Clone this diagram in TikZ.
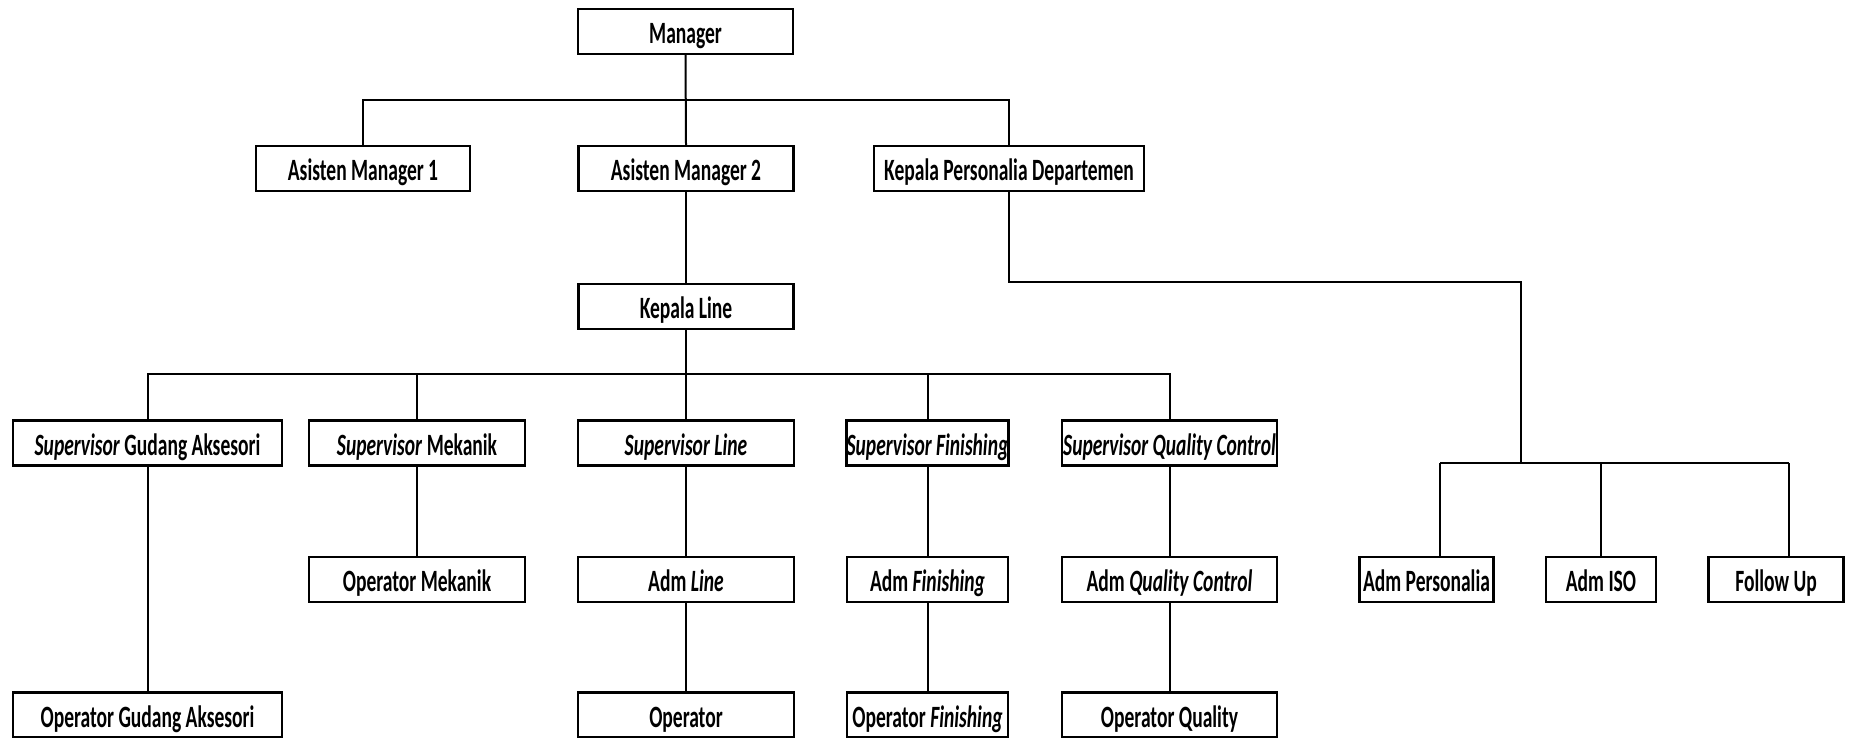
\documentclass[tikz,border=0pt]{standalone}
\usepackage{fontspec}
\setmainfont{Carlito}[FakeStretch=0.63]
\tikzset{
  box/.style={draw, line width=2.4pt, inner sep=0pt, minimum height=45pt,
    text height=26pt, text depth=2pt,
    font=\fontsize{31}{34}\selectfont\bfseries},
  conn/.style={line width=2pt},
}
\begin{document}
\begin{tikzpicture}[x=1pt,y=-1pt]
\useasboundingbox (0,0) rectangle (1849,738);
% row 1
\node[box, minimum width=215pt] (mgr) at (685.5,31.5) {Manager};
% row 2
\node[box, minimum width=214pt] (am1) at (363,168.5) {Asisten Manager 1};
\node[box, minimum width=215pt] (am2) at (686,168.5) {Asisten Manager 2};
\node[box, minimum width=270pt] (kpd) at (1009,168.5) {Kepala Personalia Departemen};
% row 3
\node[box, minimum width=215pt] (kl) at (686,306.5) {Kepala Line};
% row 4
\node[box, minimum width=269pt] (sga) at (147.5,443) {\textit{Supervisor} Gudang Aksesori};
\node[box, minimum width=216pt] (sm) at (417,443) {\textit{Supervisor} Mekanik};
\node[box, minimum width=216pt] (sl) at (686,443) {\textit{Supervisor Line}};
\node[box, minimum width=161pt] (sf) at (927.5,443) {\textit{Supervisor Finishing}};
\node[box, minimum width=215pt] (sqc) at (1169.5,443) {\textit{Supervisor Quality Control}};
% row 5
\node[box, minimum width=216pt] (om) at (417,579.5) {Operator Mekanik};
\node[box, minimum width=216pt] (al) at (686,579.5) {Adm \textit{Line}};
\node[box, minimum width=161pt] (af) at (927.5,579.5) {Adm \textit{Finishing}};
\node[box, minimum width=215pt] (aqc) at (1169.5,579.5) {Adm \textit{Quality Control}};
\node[box, minimum width=134pt] (ap) at (1426.5,579.5) {Adm Personalia};
\node[box, minimum width=110pt] (ai) at (1601,579.5) {Adm ISO};
\node[box, minimum width=135pt] (fu) at (1776,579.5) {Follow Up};
% row 6
\node[box, minimum width=269pt] (oga) at (147.5,715) {Operator Gudang Aksesori};
\node[box, minimum width=216pt] (op) at (686,715) {Operator};
\node[box, minimum width=161pt] (of) at (927.5,715) {Operator \textit{Finishing}};
\node[box, minimum width=215pt] (oq) at (1169.5,715) {Operator Quality};

% helper coordinates
\coordinate (b1) at (0,100);
\coordinate (b2) at (0,374);
\coordinate (b3) at (0,463);
\coordinate (k1) at (1521,282);
\coordinate (xp) at (1440,0);
\coordinate (xf) at (1789,0);

% connectors
\draw[conn] (mgr.south) -- (am2.north);
\draw[conn] (am1.north) -- (am1.north |- b1) -- (kpd.north |- b1) -- (kpd.north);
\draw[conn] (am2.south) -- (kl.north);
\draw[conn] (kl.south) -- (sl.north);
\draw[conn] (sga.north) -- (sga.north |- b2) -- (sqc.north |- b2) -- (sqc.north);
\draw[conn] (sm.north |- b2) -- (sm.north);
\draw[conn] (sf.north |- b2) -- (sf.north);
\draw[conn] (sga.south) -- (oga.north);
\draw[conn] (sm.south) -- (om.north);
\draw[conn] (sl.south) -- (al.north);
\draw[conn] (al.south) -- (op.north);
\draw[conn] (sf.south) -- (af.north);
\draw[conn] (af.south) -- (of.north);
\draw[conn] (sqc.south) -- (aqc.north);
\draw[conn] (aqc.south) -- (oq.north);
\draw[conn] (kpd.south) |- (k1) -- (k1 |- b3);
\draw[conn] (xp |- b3) -- (xf |- b3);
\draw[conn] (xp |- b3) -- (xp |- ap.north);
\draw[conn] (ai.north |- b3) -- (ai.north);
\draw[conn] (xf |- b3) -- (xf |- fu.north);
\end{tikzpicture}
\end{document}
